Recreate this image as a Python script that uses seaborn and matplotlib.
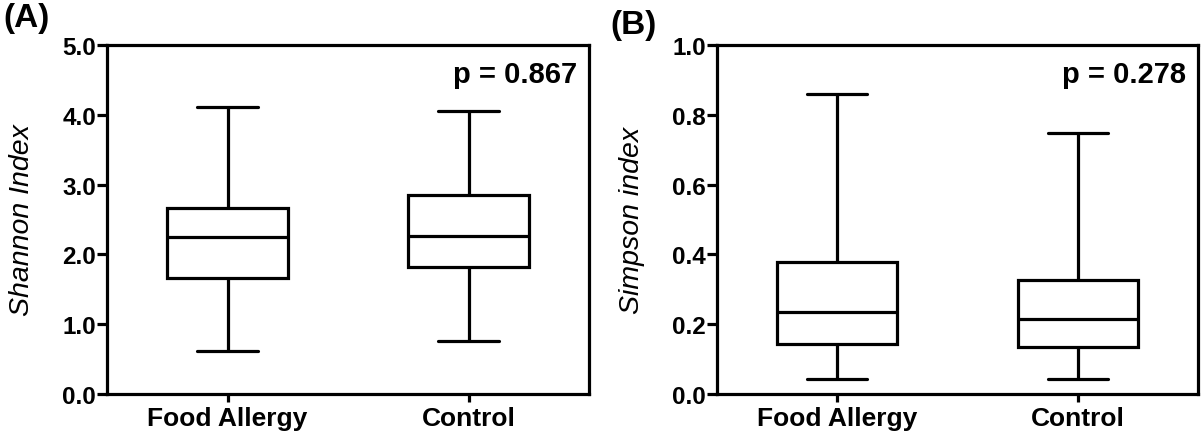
import matplotlib
matplotlib.use("Agg")
import matplotlib.pyplot as plt
import seaborn as sns
import pandas as pd
import numpy as np

# Five-number summaries (min, Q1, median, Q3, max)
groups = ["Food Allergy", "Control"]
shannon_food_allergy = [0.62, 1.66, 2.25, 2.66, 4.11]
shannon_control = [0.76, 1.82, 2.26, 2.85, 4.06]
simpson_food_allergy = [0.042, 0.143, 0.234, 0.378, 0.859]
simpson_control = [0.042, 0.134, 0.215, 0.327, 0.748]
p_values = ["p = 0.867", "p = 0.278"]
panel_labels = ["(A)", "(B)"]
y_labels = ["Shannon Index", "Simpson index"]
shannon_ticks = [0.0, 1.0, 2.0, 3.0, 4.0, 5.0]
simpson_ticks = [0.0, 0.2, 0.4, 0.6, 0.8, 1.0]

sns.set_theme(style="white")
plt.rcParams["font.family"] = ["Liberation Sans", "DejaVu Sans"]
for key in ["text.color", "axes.labelcolor", "xtick.color", "ytick.color", "axes.edgecolor"]:
    plt.rcParams[key] = "black"

def long_df(a, b):
    return pd.DataFrame({
        "group": [groups[0]] * len(a) + [groups[1]] * len(b),
        "value": list(a) + list(b),
    })

fig = plt.figure(figsize=(12.02, 4.35), dpi=100)
W, H = 1202, 435
axA = fig.add_axes([107 / W, 1 - 395 / H, (589 - 107) / W, (395 - 46) / H])
axB = fig.add_axes([717 / W, 1 - 395 / H, (1198 - 717) / W, (395 - 46) / H])

datasets = [long_df(shannon_food_allergy, shannon_control),
            long_df(simpson_food_allergy, simpson_control)]
ticks = [shannon_ticks, simpson_ticks]
lw = 2.3

for i, (ax, df) in enumerate(zip([axA, axB], datasets)):
    sns.boxplot(data=df, x="group", y="value", order=groups, ax=ax,
                whis=(0, 100), width=0.5, color="white", linecolor="black",
                linewidth=lw, fliersize=0)
    ax.set_xlim(-0.5, 1.5)
    ax.set_ylim(ticks[i][0], ticks[i][-1])
    ax.set_yticks(ticks[i])
    ax.set_yticklabels([f"{t:.1f}" for t in ticks[i]], fontsize=17.5, fontweight="bold")
    ax.set_xticks([0, 1])
    ax.set_xticklabels(groups, fontsize=19, fontweight="bold")
    ax.set_xlabel("")
    ax.set_ylabel(y_labels[i], fontsize=20.5, fontstyle="italic", color="black")
    ax.yaxis.set_label_coords(-0.15, 0.5)
    for s in ax.spines.values():
        s.set_visible(True)
        s.set_linewidth(lw)
        s.set_color("black")
    ax.tick_params(axis="y", direction="out", length=7, width=lw, left=True, pad=1, colors="black")
    ax.tick_params(axis="x", direction="out", length=6, width=lw, bottom=True, pad=3, colors="black")
    ax.grid(False)
    ax.text(0.975, 0.894, p_values[i], transform=ax.transAxes, ha="right",
            va="baseline", fontsize=21, fontweight="bold", color="black")

fig.text(3 / W, 1 - 3 / H, panel_labels[0], ha="left", va="top", fontsize=24, fontweight="bold", color="black")
fig.text(610 / W, 1 - 10 / H, panel_labels[1], ha="left", va="top", fontsize=24, fontweight="bold", color="black")

fig.savefig("out.png", dpi=100, facecolor="white")
